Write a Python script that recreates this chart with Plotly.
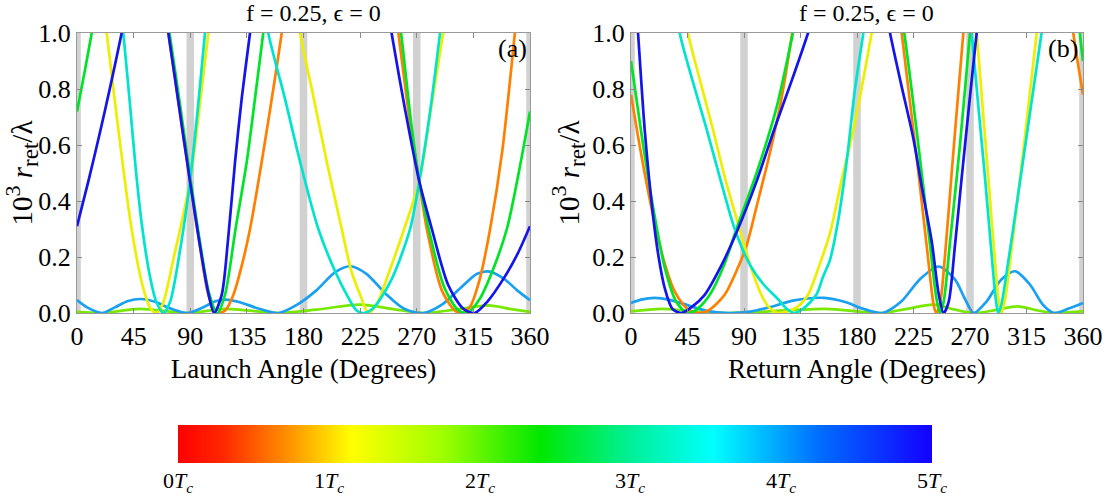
import plotly.graph_objects as go

# ---------------- data (degrees, 10^3 r_ret / lambda) ----------------
# Panel (a): launch angle
A_ORANGE = [
    [(70, 1.07), (72.6, 1.0), (81, 0.74), (89.8, 0.47), (97, 0.26), (104.4, 0.065), (111, 0.0), (118, 0.01),
     (124.3, 0.065), (131, 0.17), (137.5, 0.30), (146.8, 0.54), (157.4, 0.84), (162.7, 1.0), (165, 1.07)],
    [(253, 1.08), (255.4, 1.0), (264, 0.7), (272, 0.47), (278, 0.3), (290, 0.08), (300, 0.01), (305, 0.0),
     (312, 0.02), (320, 0.12), (328.3, 0.3), (338, 0.58), (348, 1.0), (350, 1.08)],
]
A_YELLOW = [
    [(21, 1.1), (23.6, 1.0), (33, 0.65), (43.4, 0.3), (52, 0.1), (58, 0.02), (63, 0.0), (68, 0.03), (77, 0.2),
     (89.8, 0.47), (97, 0.72), (104.4, 1.0), (106, 1.06)],
    [(175, 1.08), (177.3, 1.0), (188, 0.77), (198.5, 0.54), (210.4, 0.30), (218, 0.15), (225, 0.065), (231.6, 0.0),
     (238, 0.03), (247.5, 0.14), (260, 0.3), (272, 0.47), (281, 0.72), (291, 1.0), (293, 1.06)],
]
A_GREEN = [
    [(0, 0.72), (6, 0.86), (11.7, 1.0), (14, 1.06)],
    [(71, 1.07), (73.5, 1.0), (82, 0.74), (90.5, 0.47), (97.5, 0.26), (105, 0.07), (111.5, 0.0), (117.6, 0.065),
     (126, 0.3), (134.9, 0.54), (141, 0.75), (148, 1.0), (150, 1.07)],
    [(255, 1.07), (257.5, 1.0), (265, 0.7), (272, 0.47), (280, 0.29), (292, 0.09), (303, 0.01), (310, 0.0),
     (320, 0.05), (331, 0.16), (341.6, 0.3), (351, 0.5), (360, 0.72)],
]
A_CYAN = [
    [(35, 1.08), (36.8, 1.0), (42, 0.75), (47, 0.5), (52, 0.3), (58, 0.13), (63, 0.04), (68.6, 0.0), (74, 0.04),
     (81, 0.2), (89.8, 0.47), (96, 0.73), (101.7, 1.0), (103, 1.06)],
    [(150, 1.08), (152, 1.0), (165, 0.77), (177.3, 0.54), (191.8, 0.30), (205, 0.15), (214.4, 0.065), (222, 0.01),
     (228, 0.0), (236, 0.02), (250, 0.12), (264.7, 0.3), (272, 0.47), (280, 0.7), (288.5, 1.0), (290, 1.06)],
]
A_BLUE = [
    [(0, 0.31), (9, 0.47), (18, 0.64), (27, 0.82), (35.5, 1.0), (38, 1.06)],
    [(70, 1.07), (72.6, 1.0), (81, 0.74), (89.8, 0.47), (97, 0.26), (104.4, 0.07), (109, 0.0), (115, 0.065),
     (120, 0.26), (125.6, 0.54), (131, 0.77), (137.5, 1.0), (139, 1.06)],
    [(248, 1.06), (250, 1.0), (261, 0.72), (272, 0.47), (282, 0.3), (295, 0.1), (307, 0.015), (316, 0.0),
     (326, 0.04), (340, 0.13), (350, 0.21), (360, 0.31)],
]
A_SKY = [
    [(0, 0.046), (8, 0.02), (20, 0.0), (30, 0.02), (40, 0.042), (51, 0.05), (62, 0.04), (75, 0.015), (88, 0.0),
     (100, 0.02), (110, 0.042), (118, 0.048), (128, 0.04), (145, 0.015), (160, 0.0), (175, 0.03), (190, 0.08),
     (205, 0.145), (217, 0.167), (230, 0.14), (245, 0.07), (260, 0.015), (275, 0.0), (290, 0.03), (305, 0.09),
     (318, 0.14), (328, 0.148), (340, 0.12), (350, 0.08), (360, 0.046)],
]
A_LIME = [
    [(0, 0.004), (20, 0.0), (50, 0.015), (88, 0.0), (118, 0.015), (160, 0.0), (190, 0.012), (225, 0.03),
     (250, 0.015), (275, 0.0), (300, 0.012), (327, 0.027), (345, 0.014), (360, 0.004)],
]

# Panel (b): return angle
B_ORANGE = [
    [(0, 0.78), (8, 0.57), (17.5, 0.35), (26, 0.19), (34.8, 0.077), (45, 0.015), (54, 0.0), (62, 0.01),
     (74.6, 0.065), (84, 0.15), (92, 0.24), (100, 0.38), (110, 0.56), (120, 0.77), (128.4, 1.0), (130, 1.05)],
    [(214, 1.06), (215.6, 1.0), (222, 0.76), (228.8, 0.506), (236, 0.22), (241, 0.03), (243, 0.0), (246, 0.03),
     (250, 0.2), (255.4, 0.5), (260, 0.75), (264.7, 1.0), (266, 1.07)],
    [(350, 1.1), (352.3, 1.0), (360, 0.78)],
]
B_YELLOW = [
    [(43, 1.1), (45.4, 1.0), (55, 0.83), (65, 0.66), (75, 0.48), (86.5, 0.3), (95, 0.17), (103.8, 0.065),
     (110, 0.02), (117, 0.0), (124, 0.005), (132, 0.02), (141, 0.065), (150, 0.17), (158.5, 0.285), (168, 0.48),
     (178.4, 0.68), (191.7, 1.0), (194, 1.06)],
    [(273.5, 1.08), (275.3, 1.0), (280, 0.74), (285, 0.46), (290, 0.18), (293, 0.04), (295.2, 0.0), (298, 0.05),
     (305, 0.3), (313, 0.6), (323.1, 1.0), (325, 1.07)],
]
B_GREEN = [
    [(0, 0.9), (8, 0.65), (17.5, 0.38), (27, 0.16), (36, 0.04), (45, 0.0), (53, 0.015), (62.7, 0.065), (74, 0.17),
     (84, 0.3), (100, 0.5), (115.7, 0.73), (129, 1.0), (131, 1.04)],
    [(216, 1.05), (217.7, 1.0), (224, 0.78), (231, 0.52), (238, 0.25), (243, 0.06), (246, 0.0), (249, 0.04),
     (254, 0.25), (262, 0.6), (270, 1.0), (271.5, 1.07)],
    [(356, 1.15), (357.5, 1.0), (360, 0.9)],
]
B_CYAN = [
    [(37, 1.08), (38.8, 1.0), (49, 0.83), (60, 0.66), (71, 0.48), (82.6, 0.30), (95, 0.17), (106, 0.1),
     (117, 0.05), (124, 0.015), (130, 0.0), (137, 0.015), (147.6, 0.065), (153, 0.13), (158.5, 0.19), (165, 0.33),
     (172, 0.55), (178.4, 0.8), (185, 1.0), (186.5, 1.06)],
    [(269.8, 1.07), (271.3, 1.0), (277, 0.72), (282, 0.48), (287, 0.22), (290.5, 0.05), (292.5, 0.0), (295, 0.03),
     (300, 0.17), (305, 0.32), (316, 0.66), (327, 1.0), (329, 1.06)],
]
B_BLUE = [
    [(4, 1.1), (5.6, 1.0), (11, 0.65), (17.5, 0.35), (22, 0.2), (26.8, 0.09), (33, 0.015), (40, 0.0), (48, 0.02),
     (58.7, 0.065), (72, 0.17), (85.2, 0.30), (100, 0.47), (114.4, 0.66), (128, 0.83), (141, 1.0), (143, 1.03)],
    [(204, 1.06), (206.3, 1.0), (215, 0.82), (224.8, 0.625), (232, 0.44), (239.5, 0.256), (245, 0.07), (249, 0.0),
     (253, 0.04), (258, 0.24), (263.3, 0.48), (269, 0.73), (275.3, 1.0), (277, 1.07)],
]
B_SKY = [
    [(0, 0.036), (8, 0.048), (19, 0.054), (30, 0.048), (45, 0.028), (60, 0.008), (78, 0.0), (95, 0.005),
     (110, 0.02), (130, 0.045), (154, 0.054), (170, 0.04), (185, 0.015), (200, 0.0), (215, 0.04), (230, 0.12),
     (245, 0.166), (258, 0.12), (266, 0.05), (273, 0.0), (283, 0.04), (295, 0.12), (306, 0.149), (318, 0.1),
     (328, 0.03), (337, 0.0), (348, 0.015), (360, 0.036)],
]
B_LIME = [
    [(0, 0.006), (24, 0.015), (50, 0.006), (78, 0.0), (110, 0.006), (155, 0.015), (185, 0.004), (200, 0.0),
     (220, 0.015), (241, 0.03), (258, 0.012), (273, 0.0), (290, 0.01), (308, 0.024), (325, 0.008), (338, 0.0),
     (350, 0.003), (360, 0.006)],
]

X_TICKS = [0, 45, 90, 135, 180, 225, 270, 315, 360]
Y_TICKS = [0.0, 0.2, 0.4, 0.6, 0.8, 1.0]
BAND_CENTERS = [0, 90, 180, 270, 360]
CBAR_TICKS = [0, 1, 2, 3, 4, 5]          # in units of T_c
CBAR_MIN, CBAR_MAX = 0, 5

# ---------------- styling ----------------
ORANGE = "rgb(255,128,0)"
YELLOW = "rgb(238,238,0)"
LIME = "rgb(120,232,0)"
GREEN = "rgb(0,228,40)"
CYAN = "rgb(0,228,205)"
SKY = "rgb(25,160,240)"
BLUE = "rgb(20,20,235)"

SERIF = "Liberation Serif"
W, H = 1107, 498
CB_LEFT, CB_LEN, CB_TOP, CB_THICK = 178, 754, 425, 38

COLORSCALE = [
    [0.0, "rgb(255,0,0)"], [0.06, "rgb(255,40,0)"], [0.15, "rgb(255,150,0)"], [0.23, "rgb(255,255,0)"],
    [0.35, "rgb(160,255,0)"], [0.48, "rgb(0,232,0)"], [0.6, "rgb(0,240,150)"], [0.71, "rgb(0,255,255)"],
    [0.85, "rgb(0,110,255)"], [1.0, "rgb(20,0,255)"],
]

fig = go.Figure()

panels = [
    ("x", "y", [(A_LIME, LIME), (A_SKY, SKY), (A_ORANGE, ORANGE), (A_YELLOW, YELLOW), (A_GREEN, GREEN),
                (A_CYAN, CYAN), (A_BLUE, BLUE)]),
    ("x2", "y2", [(B_LIME, LIME), (B_SKY, SKY), (B_ORANGE, ORANGE), (B_YELLOW, YELLOW), (B_GREEN, GREEN),
                  (B_CYAN, CYAN), (B_BLUE, BLUE)]),
]
for xa, ya, series in panels:
    for segs, col in series:
        for seg in segs:
            fig.add_trace(go.Scatter(
                x=[p[0] for p in seg], y=[p[1] for p in seg], mode="lines",
                line=dict(color=col, width=2.7, shape="spline", smoothing=0.8),
                xaxis=xa, yaxis=ya, showlegend=False, hoverinfo="skip"))

# colour bar (dummy trace); its labels are drawn as annotations just below it
fig.add_trace(go.Scatter(
    x=[None], y=[None], mode="markers", showlegend=False, hoverinfo="skip",
    marker=dict(color=[CBAR_MIN], cmin=CBAR_MIN, cmax=CBAR_MAX, colorscale=COLORSCALE, showscale=True,
                colorbar=dict(orientation="h", thickness=CB_THICK, thicknessmode="pixels",
                              len=CB_LEN, lenmode="pixels", x=(CB_LEFT + CB_LEN / 2) / W, xanchor="center",
                              xpad=0, ypad=0, y=(H - CB_TOP) / H, yanchor="top", outlinewidth=0,
                              ticks="", showticklabels=False)),
))

# gray bands
shapes = []
for xr in ("x", "x2"):
    yr = "y" if xr == "x" else "y2"
    for c in BAND_CENTERS:
        shapes.append(dict(type="rect", xref=xr, yref=yr + " domain", x0=max(c - 3, 0), x1=min(c + 3, 360),
                           y0=0, y1=1, fillcolor="rgba(190,190,190,0.7)", line=dict(width=0), layer="below"))

TICKFONT = dict(family=SERIF, size=26, color="black")
ax_common = dict(range=[0, 360], tickvals=X_TICKS, ticks="inside", ticklen=5, tickcolor="#888",
                 showline=True, linecolor="#999", linewidth=1, mirror="ticks", showgrid=False, zeroline=False,
                 tickfont=TICKFONT)
ay_common = dict(range=[0, 1], tickvals=Y_TICKS, tickformat=".1f", ticks="inside", ticklen=5, tickcolor="#888",
                 showline=True, linecolor="#999", linewidth=1, mirror="ticks", showgrid=False, zeroline=False,
                 tickfont=TICKFONT)
ytitle = ("10<sup><span style='font-size:22px'>3</span></sup> <i>r</i>"
          "<sub><span style='font-size:23px'>ret</span></sub>/λ")
XT_FONT = dict(family=SERIF, size=27, color="black")
YT_FONT = dict(family=SERIF, size=29, color="black")

annotations = [
    dict(text="f = 0.25, ϵ = 0", x=313 / W, y=(H - 13) / H, xref="paper", yref="paper", showarrow=False,
         font=dict(family=SERIF, size=24, color="black"), xanchor="center", yanchor="middle"),
    dict(text="f = 0.25, ϵ = 0", x=866 / W, y=(H - 13) / H, xref="paper", yref="paper", showarrow=False,
         font=dict(family=SERIF, size=24, color="black"), xanchor="center", yanchor="middle"),
    dict(text="(a)", x=345.8, y=0.946, xref="x", yref="y", showarrow=False,
         font=dict(family=SERIF, size=26, color="black"), xanchor="center", yanchor="middle"),
    dict(text="(b)", x=344, y=0.946, xref="x2", yref="y2", showarrow=False,
         font=dict(family=SERIF, size=26, color="black"), xanchor="center", yanchor="middle"),
]
for t in CBAR_TICKS:
    xpix = CB_LEFT + CB_LEN * (t - CBAR_MIN) / (CBAR_MAX - CBAR_MIN)
    annotations.append(dict(text=f"{t}<i>T<sub>c</sub></i>", x=xpix / W, y=(H - 466) / H, xref="paper",
                            yref="paper", showarrow=False, xanchor="center", yanchor="top",
                            font=dict(family=SERIF, size=22, color="black")))

fig.update_layout(
    width=W, height=H, paper_bgcolor="white", plot_bgcolor="white",
    margin=dict(l=0, r=0, t=0, b=0, autoexpand=False),
    xaxis=dict(ax_common, domain=[77 / W, 530 / W], anchor="y",
               title=dict(text="Launch Angle (Degrees)", font=XT_FONT, standoff=8)),
    yaxis=dict(ay_common, domain=[(H - 313) / H, (H - 33) / H], anchor="x",
               title=dict(text=ytitle, font=YT_FONT, standoff=4)),
    xaxis2=dict(ax_common, domain=[631 / W, 1083 / W], anchor="y2",
                title=dict(text="Return Angle (Degrees)", font=XT_FONT, standoff=8)),
    yaxis2=dict(ay_common, domain=[(H - 313) / H, (H - 33) / H], anchor="x2",
                title=dict(text=ytitle, font=YT_FONT, standoff=4)),
    shapes=shapes,
    annotations=annotations,
)

fig.write_html("out.html", config={"displayModeBar": False},
               post_script="document.body.style.margin='0';")
